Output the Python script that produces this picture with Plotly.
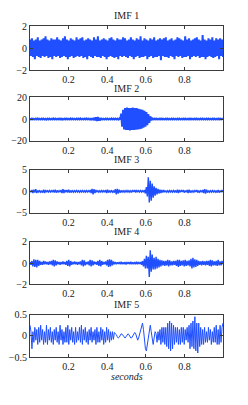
import plotly.graph_objects as go

# ---- data (sample values, ~0.005 s apart) ----
imf1 = [0.8,-0.7,0.9,-0.8,0.7,-1.0,0.8,-0.7,1.0,-0.8,
        0.7,-0.9,0.8,-0.7,0.9,-0.8,1.1,-0.7,0.8,-0.9,
        0.7,-0.8,0.9,-1.0,0.8,-0.7,0.8,-0.8,1.0,-0.7,
        0.8,-0.9,0.7,-0.8,0.9,-0.7,1.1,-0.8,0.8,-1.0,
        0.7,-0.8,0.9,-0.7,0.8,-0.9,0.7,-0.8,1.0,-0.7,
        0.8,-0.8,0.9,-0.7,1.0,-0.9,0.7,-0.8,0.8,-1.0,
        0.9,-0.7,0.8,-0.8,0.7,-0.9,1.0,-0.7,0.8,-0.8,
        1.1,-0.8,0.7,-0.9,0.8,-0.7,0.9,-0.8,0.8,-1.0,
        0.7,-0.8,0.9,-0.7,1.0,-0.8,0.8,-0.9,0.7,-0.8,
        0.9,-1.0,0.8,-0.7,0.8,-0.8,1.0,-0.7,0.9,-0.8,
        0.7,-0.9,0.8,-0.7,1.0,-0.8,0.8,-1.0,0.7,-0.8,
        0.9,-0.7,0.8,-0.9,1.1,-0.8,0.7,-0.8,0.9,-0.7,
        0.8,-1.0,0.7,-0.8,0.9,-0.7,0.8,-0.9,1.0,-0.8,
        0.7,-0.8,0.8,-0.7,0.9,-1.1,0.8,-0.7,0.9,-0.8,
        1.0,-0.8,0.7,-0.9,0.8,-0.7,0.9,-0.8,0.7,-1.0,
        0.8,-0.7,1.0,-0.8,0.9,-0.7,0.8,-0.9,0.7,-0.8,
        1.1,-0.8,0.8,-0.7,0.9,-1.0,0.7,-0.8,0.8,-0.7,
        0.9,-0.8,1.0,-0.7,0.8,-0.9,0.7,-0.8,1.2,-0.8,
        0.8,-1.0,0.7,-0.8,0.9,-0.7,0.8,-0.8,1.0,-0.9,
        0.7,-0.8,0.9,-0.7,0.8,-1.0,0.9,-0.7,0.8,-0.8]

imf2 = [0.4,-0.3,0.4,-0.4,0.3,-0.4,0.4,-0.3,0.5,-0.4,
        0.3,-0.4,0.4,-0.3,0.4,-0.4,0.3,-0.5,0.4,-0.3,
        0.4,-0.4,0.3,-0.4,0.5,-0.3,0.4,-0.4,0.3,-0.4,
        0.4,-0.3,0.4,-0.5,0.3,-0.4,0.4,-0.3,0.4,-0.4,
        0.3,-0.4,0.5,-0.3,0.4,-0.4,0.3,-0.4,0.4,-0.3,
        0.4,-0.4,0.5,-0.4,0.3,-0.4,0.4,-0.3,0.5,-0.4,
        0.4,-0.4,0.3,-0.5,0.4,-0.4,0.6,-1.0,1.6,-1.8,
        1.8,-1.5,0.9,-0.5,0.4,-0.4,0.3,-0.4,0.4,-0.3,
        0.4,-0.4,0.3,-0.4,0.5,-0.4,0.4,-0.3,0.4,-0.4,
        0.4,-0.5,0.5,-0.6,5.0,-7.0,8.5,-9.5,10.0,-10.0,
        10.5,-10.0,10.0,-10.5,10.0,-10.0,10.5,-10.0,10.0,-9.8,
        10.0,-9.5,9.5,-9.3,9.0,-8.8,8.5,-8.0,7.5,-7.0,
        6.5,-5.5,4.5,-3.5,2.5,-1.2,0.5,-0.4,0.4,-0.3,
        0.4,-0.4,0.3,-0.4,0.4,-0.3,0.4,-0.4,0.3,-0.4,
        0.4,-0.3,0.4,-0.4,0.3,-0.4,0.4,-0.3,0.4,-0.4,
        0.3,-0.4,0.4,-0.3,0.4,-0.4,0.3,-0.4,0.4,-0.3,
        0.4,-0.4,0.3,-0.4,0.4,-0.3,0.4,-0.4,0.3,-0.4,
        0.4,-0.3,0.4,-0.4,0.3,-0.4,0.4,-0.3,0.4,-0.4,
        0.3,-0.4,0.4,-0.3,0.4,-0.4,0.3,-0.4,0.4,-0.3,
        0.4,-0.4,0.3,-0.4,0.4,-0.3,0.4,-0.4,0.3,-0.4]

imf3 = [0.15,-0.2,0.3,-0.4,0.4,-0.3,0.5,-0.4,0.2,-0.15,
        0.15,-0.2,0.15,-0.3,0.4,-0.4,0.3,-0.2,0.15,-0.15,
        0.2,-0.15,0.15,-0.2,0.3,-0.3,0.4,-0.3,0.2,-0.15,
        0.15,-0.2,0.3,-0.4,0.5,-0.4,0.3,-0.2,0.3,-0.3,
        0.4,-0.3,0.2,-0.15,0.15,-0.2,0.15,-0.15,0.2,-0.15,
        0.15,-0.2,0.15,-0.15,0.2,-0.15,0.15,-0.2,0.2,-0.15,
        0.15,-0.2,0.3,-0.4,0.6,-0.7,0.5,-0.4,0.3,-0.2,
        0.15,-0.2,0.15,-0.15,0.2,-0.15,0.15,-0.2,0.3,-0.4,
        0.4,-0.3,0.2,-0.15,0.15,-0.2,0.2,-0.3,0.5,-0.7,
        0.6,-0.5,0.4,-0.3,0.2,-0.15,0.15,-0.2,0.15,-0.15,
        0.2,-0.15,0.15,-0.2,0.15,-0.15,0.2,-0.15,0.3,-0.3,
        0.3,-0.2,0.15,-0.15,0.2,-0.15,0.15,-0.2,0.3,-0.5,
        1.0,-1.2,3.3,-2.6,2.5,-2.2,1.8,-1.5,1.2,-1.0,
        0.8,-0.7,0.6,-0.5,0.4,-0.4,0.3,-0.3,0.3,-0.2,
        0.2,-0.2,0.15,-0.2,0.2,-0.15,0.15,-0.2,0.2,-0.15,
        0.2,-0.3,0.4,-0.4,0.3,-0.2,0.2,-0.15,0.3,-0.3,
        0.2,-0.2,0.3,-0.4,0.4,-0.3,0.2,-0.2,0.15,-0.2,
        0.2,-0.15,0.3,-0.3,0.2,-0.2,0.15,-0.2,0.3,-0.4,
        0.5,-0.5,0.4,-0.3,0.2,-0.2,0.15,-0.2,0.2,-0.15,
        0.15,-0.2,0.2,-0.3,0.3,-0.3,0.2,-0.2,0.3,-0.2]

imf4 = [0.1,-0.15,0.2,-0.3,0.35,-0.35,0.3,-0.4,0.3,-0.25,
        0.2,-0.15,0.1,-0.15,0.2,-0.1,0.15,-0.1,0.1,-0.15,
        0.15,-0.1,0.2,-0.2,0.3,-0.3,0.25,-0.2,0.15,-0.1,
        0.1,-0.15,0.1,-0.1,0.15,-0.1,0.1,-0.15,0.2,-0.25,
        0.3,-0.3,0.2,-0.15,0.1,-0.1,0.15,-0.1,0.1,-0.15,
        0.1,-0.1,0.15,-0.2,0.3,-0.3,0.25,-0.2,0.1,-0.1,
        0.15,-0.2,0.3,-0.3,0.25,-0.2,0.15,-0.1,0.1,-0.15,
        0.2,-0.25,0.3,-0.3,0.2,-0.15,0.1,-0.1,0.15,-0.2,
        0.3,-0.35,0.35,-0.3,0.3,-0.2,0.15,-0.1,0.1,-0.1,
        0.08,-0.08,0.1,-0.1,0.12,-0.1,0.08,-0.1,0.1,-0.12,
        0.1,-0.08,0.1,-0.1,0.12,-0.1,0.08,-0.1,0.1,-0.1,
        0.12,-0.1,0.1,-0.08,0.1,-0.15,0.2,-0.3,0.4,-0.5,
        0.7,-0.5,0.6,-1.3,1.2,-0.8,0.8,-0.6,0.5,-0.6,
        0.6,-0.5,0.4,-0.4,0.3,-0.3,0.25,-0.2,0.2,-0.25,
        0.2,-0.2,0.3,-0.3,0.25,-0.2,0.15,-0.2,0.2,-0.15,
        0.2,-0.25,0.3,-0.35,0.3,-0.25,0.2,-0.2,0.25,-0.3,
        0.3,-0.25,0.2,-0.2,0.25,-0.3,0.4,-0.5,0.5,-0.4,
        0.35,-0.35,0.3,-0.25,0.2,-0.15,0.15,-0.2,0.2,-0.15,
        0.15,-0.2,0.2,-0.15,0.2,-0.25,0.3,-0.3,0.25,-0.2,
        0.15,-0.2,0.2,-0.25,0.3,-0.2,0.15,-0.2,0.2,-0.1]

imf5 = [0.25,0.1,-0.3,0.1,-0.15,0.2,-0.1,0.15,-0.2,0.2,
        -0.15,0.25,-0.1,0.15,-0.2,0.1,-0.15,0.25,-0.2,0.15,
        -0.1,0.2,-0.15,0.1,-0.2,0.15,-0.1,0.2,-0.15,0.1,
        -0.2,0.25,-0.1,0.15,-0.2,0.1,-0.15,0.2,-0.15,0.25,
        -0.2,0.15,-0.1,0.2,-0.15,0.1,-0.2,0.2,-0.15,0.1,
        -0.1,0.2,-0.15,0.25,-0.2,0.15,-0.1,0.2,-0.15,0.1,
        -0.2,0.15,-0.1,0.2,-0.15,0.1,-0.1,0.15,-0.2,0.2,
        -0.15,0.1,-0.15,0.2,-0.1,0.15,-0.2,0.1,-0.15,0.2,
        -0.1,0.15,-0.15,0.1,-0.1,0.1,-0.08,0.08,0.05,0.03,
        -0.02,-0.05,-0.03,0.02,0.05,0.04,0.0,-0.04,-0.05,-0.02,
        0.03,0.05,0.03,-0.02,-0.05,-0.04,0.0,0.05,0.08,0.05,
        -0.05,-0.1,-0.05,0.05,0.1,0.25,0.3,0.15,-0.1,-0.3,
        -0.35,-0.2,0.05,0.2,0.25,0.1,-0.1,-0.2,-0.05,0.1,
        0.05,-0.15,0.1,-0.1,0.15,-0.2,0.2,-0.15,0.2,-0.2,
        0.2,-0.25,0.3,-0.3,0.35,-0.35,0.3,-0.3,0.25,-0.2,
        0.2,-0.15,0.2,-0.2,0.15,-0.2,0.2,-0.15,0.2,-0.2,
        0.15,-0.1,0.2,-0.15,0.25,-0.3,0.3,-0.25,0.35,-0.3,
        0.45,-0.35,0.3,-0.4,0.3,-0.25,0.2,-0.2,0.15,-0.2,
        0.2,-0.15,0.1,-0.15,0.2,-0.1,0.15,-0.2,0.1,-0.15,
        0.2,-0.15,0.25,-0.2,0.15,-0.2,0.25,-0.15,0.2,0.3]

series = [imf1, imf2, imf3, imf4, imf5]
titles = ["IMF 1", "IMF 2", "IMF 3", "IMF 4", "IMF 5"]
yranges = [[-2, 2], [-20, 20], [-5, 5], [-2, 2], [-0.5, 0.5]]
yticks = [[-2, 0, 2], [-20, 0, 20], [-5, 0, 5], [-2, 0, 2], [-0.5, 0, 0.5]]
yticktext = [["−2", "0", "2"], ["−20", "0", "20"], ["−5", "0", "5"],
             ["−2", "0", "2"], ["−0.5", "0", "0.5"]]
xticks = [0.2, 0.4, 0.6, 0.8]
xticktext = ["0.2", "0.4", "0.6", "0.8"]

W, H = 248, 405
tops = [21, 94, 169, 243, 318]
bots = [66, 139, 213, 287, 362]
title_y = [10, 85, 158, 232, 308]
X0, X1 = 30, 223

BLUE = "#1f4fff"
AX = "#3c3c3c"
FONT = "Liberation Serif"
widths = [2.0, 2.0, 1.4, 1.4, 1.0]

fig = go.Figure()
for k, vals in enumerate(series):
    n = len(vals)
    t = [i / (n - 1) for i in range(n)]
    xa = "x" if k == 0 else f"x{k+1}"
    ya = "y" if k == 0 else f"y{k+1}"
    fig.add_trace(go.Scatter(x=t, y=vals, mode="lines",
                             line=dict(color=BLUE, width=widths[k]),
                             xaxis=xa, yaxis=ya, showlegend=False,
                             hoverinfo="skip"))
    xk = "xaxis" if k == 0 else f"xaxis{k+1}"
    yk = "yaxis" if k == 0 else f"yaxis{k+1}"
    fig.layout[xk] = dict(domain=[X0 / W, X1 / W], range=[0, 1],
                          anchor=ya,
                          tickvals=xticks, ticktext=xticktext,
                          ticks="inside", ticklen=3, tickcolor=AX,
                          showline=True, linecolor=AX, linewidth=1,
                          mirror="allticks", showgrid=False, zeroline=False,
                          tickfont=dict(family=FONT, size=10, color="#222"))
    fig.layout[yk] = dict(domain=[1 - bots[k] / H, 1 - tops[k] / H],
                          range=yranges[k], anchor=xa,
                          tickvals=yticks[k], ticktext=yticktext[k],
                          ticks="inside", ticklen=3, tickcolor=AX,
                          showline=True, linecolor=AX, linewidth=1,
                          mirror="allticks", showgrid=False, zeroline=False,
                          tickfont=dict(family=FONT, size=10, color="#222"))
    fig.add_annotation(text=titles[k], xref="paper", yref="paper",
                       x=(X0 + X1) / 2 / W, y=1 - title_y[k] / H,
                       xanchor="center", yanchor="middle", showarrow=False,
                       font=dict(family=FONT, size=10, color="#222"))

fig.add_annotation(text="<i>seconds</i>", xref="paper", yref="paper",
                   x=(X0 + X1) / 2 / W, y=1 - 382 / H,
                   xanchor="center", yanchor="middle", showarrow=False,
                   font=dict(family=FONT, size=10, color="#222"))

fig.update_layout(width=W, height=H, margin=dict(l=0, r=0, t=0, b=0),
                  plot_bgcolor="white", paper_bgcolor="white")
fig.write_html("out.html", config={"displayModeBar": False},
               post_script="document.body.style.margin='0px';document.body.style.padding='0px';")
